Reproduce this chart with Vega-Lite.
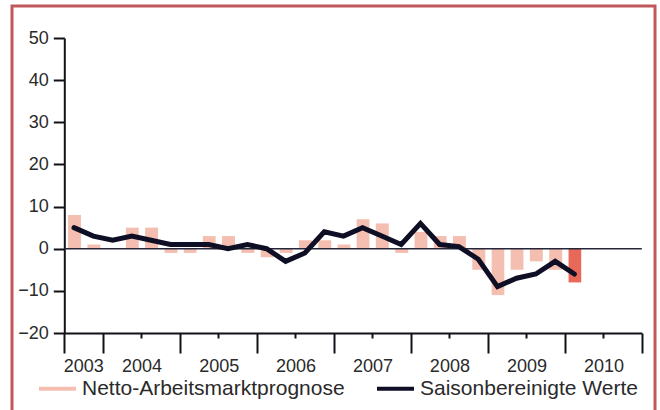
{
  "$schema": "https://vega.github.io/schema/vega-lite/v6.json",
  "width": 643,
  "height": 420,
  "autosize": {"type": "none"},
  "padding": {"left": 12, "top": 6, "right": 5, "bottom": 0},
  "background": "white",
  "config": {
    "view": {"stroke": "#c0585b", "strokeWidth": 3},
    "font": "Liberation Sans"
  },
  "data": {
    "values": [
      {"quartal": "2003-07-01", "prognose": 8, "saison": 5, "status": "historisch"},
      {"quartal": "2003-10-01", "prognose": 1, "saison": 3, "status": "historisch"},
      {"quartal": "2004-01-01", "prognose": 0, "saison": 2, "status": "historisch"},
      {"quartal": "2004-04-01", "prognose": 5, "saison": 3, "status": "historisch"},
      {"quartal": "2004-07-01", "prognose": 5, "saison": 2, "status": "historisch"},
      {"quartal": "2004-10-01", "prognose": -1, "saison": 1, "status": "historisch"},
      {"quartal": "2005-01-01", "prognose": -1, "saison": 1, "status": "historisch"},
      {"quartal": "2005-04-01", "prognose": 3, "saison": 1, "status": "historisch"},
      {"quartal": "2005-07-01", "prognose": 3, "saison": 0, "status": "historisch"},
      {"quartal": "2005-10-01", "prognose": -1, "saison": 1, "status": "historisch"},
      {"quartal": "2006-01-01", "prognose": -2, "saison": 0, "status": "historisch"},
      {"quartal": "2006-04-01", "prognose": -1, "saison": -3, "status": "historisch"},
      {"quartal": "2006-07-01", "prognose": 2, "saison": -1, "status": "historisch"},
      {"quartal": "2006-10-01", "prognose": 2, "saison": 4, "status": "historisch"},
      {"quartal": "2007-01-01", "prognose": 1, "saison": 3, "status": "historisch"},
      {"quartal": "2007-04-01", "prognose": 7, "saison": 5, "status": "historisch"},
      {"quartal": "2007-07-01", "prognose": 6, "saison": 3, "status": "historisch"},
      {"quartal": "2007-10-01", "prognose": -1, "saison": 1, "status": "historisch"},
      {"quartal": "2008-01-01", "prognose": 4, "saison": 6, "status": "historisch"},
      {"quartal": "2008-04-01", "prognose": 3, "saison": 1, "status": "historisch"},
      {"quartal": "2008-07-01", "prognose": 3, "saison": 0.5, "status": "historisch"},
      {"quartal": "2008-10-01", "prognose": -5, "saison": -2.5, "status": "historisch"},
      {"quartal": "2009-01-01", "prognose": -11, "saison": -9, "status": "historisch"},
      {"quartal": "2009-04-01", "prognose": -5, "saison": -7, "status": "historisch"},
      {"quartal": "2009-07-01", "prognose": -3, "saison": -6, "status": "historisch"},
      {"quartal": "2009-10-01", "prognose": -5, "saison": -3, "status": "historisch"},
      {"quartal": "2010-01-01", "prognose": -8, "saison": -6, "status": "aktuell"}
    ]
  },
  "layer": [
    {
      "transform": [{"filter": "datum.status === 'historisch'"}],
      "mark": {"type": "bar", "width": {"band": 0.72}},
      "encoding": {
        "x": {
          "field": "quartal",
          "type": "temporal",
          "timeUnit": "utcyearquarter",
          "scale": {
            "type": "utc",
            "nice": false,
            "domain": [{"year": 2003, "month": 7, "date": 1, "utc": true}, {"year": 2011, "month": 1, "date": 1, "utc": true}],
            "range": [52.3, 629.8]
          },
          "axis": {
            "orient": "bottom",
            "offset": -93,
            "title": null,
            "grid": false,
            "values": [
              {"year": 2003, "month": 7, "date": 1, "utc": true}, {"year": 2003, "month": 10, "date": 1, "utc": true},
              {"year": 2004, "month": 1, "date": 1, "utc": true}, {"year": 2004, "month": 4, "date": 1, "utc": true}, {"year": 2004, "month": 7, "date": 1, "utc": true}, {"year": 2004, "month": 10, "date": 1, "utc": true},
              {"year": 2005, "month": 1, "date": 1, "utc": true}, {"year": 2005, "month": 4, "date": 1, "utc": true}, {"year": 2005, "month": 7, "date": 1, "utc": true}, {"year": 2005, "month": 10, "date": 1, "utc": true},
              {"year": 2006, "month": 1, "date": 1, "utc": true}, {"year": 2006, "month": 4, "date": 1, "utc": true}, {"year": 2006, "month": 7, "date": 1, "utc": true}, {"year": 2006, "month": 10, "date": 1, "utc": true},
              {"year": 2007, "month": 1, "date": 1, "utc": true}, {"year": 2007, "month": 4, "date": 1, "utc": true}, {"year": 2007, "month": 7, "date": 1, "utc": true}, {"year": 2007, "month": 10, "date": 1, "utc": true},
              {"year": 2008, "month": 1, "date": 1, "utc": true}, {"year": 2008, "month": 4, "date": 1, "utc": true}, {"year": 2008, "month": 7, "date": 1, "utc": true}, {"year": 2008, "month": 10, "date": 1, "utc": true},
              {"year": 2009, "month": 1, "date": 1, "utc": true}, {"year": 2009, "month": 4, "date": 1, "utc": true}, {"year": 2009, "month": 7, "date": 1, "utc": true}, {"year": 2009, "month": 10, "date": 1, "utc": true},
              {"year": 2010, "month": 1, "date": 1, "utc": true}, {"year": 2010, "month": 4, "date": 1, "utc": true}, {"year": 2010, "month": 7, "date": 1, "utc": true}, {"year": 2010, "month": 10, "date": 1, "utc": true},
              {"year": 2011, "month": 1, "date": 1, "utc": true}
            ],
            "domainColor": "#111118",
            "domainWidth": 2,
            "tickColor": "#111118",
            "tickWidth": 2,
            "tickSize": {"condition": {"test": "utcmonth(datum.value) === 0 || (utcyear(datum.value) === 2003 && utcmonth(datum.value) === 6)", "value": 20}, "value": 5},
            "labelExpr": "(utcmonth(datum.value) === 0 && utcyear(datum.value) < 2011) || (utcyear(datum.value) === 2003 && utcmonth(datum.value) === 6) ? '' + utcyear(datum.value) : ''",
            "labelOffset": {"condition": {"test": "utcyear(datum.value) === 2003", "value": 19}, "value": 38.5},
            "labelPadding": 4,
            "labelFontSize": 18,
            "labelColor": "#2a2a2a",
            "labelFlush": false,
            "labelBound": false,
            "labelOverlap": false
          }
        },
        "y": {
          "field": "prognose",
          "type": "quantitative",
          "scale": {"domain": [-20, 50], "range": [327, 32], "nice": false, "zero": false},
          "axis": {
            "offset": -52.3,
            "title": null,
            "grid": false,
            "values": [-20, -10, 0, 10, 20, 30, 40, 50],
            "tickSize": 11,
            "tickColor": "#111118",
            "tickWidth": 2,
            "domainColor": "#111118",
            "domainWidth": 2,
            "labelFontSize": 18,
            "labelColor": "#2a2a2a",
            "labelPadding": 5
          }
        },
        "color": {
          "datum": "Netto-Arbeitsmarktprognose",
          "type": "nominal",
          "scale": {
            "domain": ["Netto-Arbeitsmarktprognose", "Saisonbereinigte Werte"],
            "range": ["#f4bfb0", "#0e0e24"]
          },
          "legend": {
            "orient": "none",
            "legendX": 25,
            "legendY": 362,
            "direction": "horizontal",
            "title": null,
            "symbolType": "stroke",
            "symbolSize": 1369,
            "symbolStrokeWidth": 4,
            "labelFontSize": 21,
            "labelFont": "Liberation Sans",
            "labelColor": "#2a2a2a",
            "labelOffset": 4,
            "labelLimit": 400,
            "columnPadding": 24,
            "padding": 0,
            "encode": {
              "symbols": {
                "update": {
                  "stroke": {"signal": "datum.value === 'Netto-Arbeitsmarktprognose' ? '#e2b4b3' : '#1b2330'"},
                  "fill": {"value": "transparent"},
                  "strokeWidth": {"value": 4}
                }
              }
            }
          }
        }
      }
    },
    {
      "transform": [{"filter": "datum.status === 'aktuell'"}],
      "mark": {"type": "bar", "width": {"band": 0.72}, "color": "#e8695a"},
      "encoding": {
        "x": {"field": "quartal", "type": "temporal", "timeUnit": "utcyearquarter"},
        "y": {"field": "prognose", "type": "quantitative"}
      }
    },
    {
      "data": {"values": [{"nulllinie": 0}]},
      "mark": {"type": "rule", "color": "#26263a", "strokeWidth": 1.6},
      "encoding": {
        "y": {"field": "nulllinie", "type": "quantitative"},
        "x": {"datum": {"year": 2003, "month": 7, "date": 1, "utc": true}, "type": "temporal"},
        "x2": {"datum": {"year": 2011, "month": 1, "date": 1, "utc": true}}
      }
    },
    {
      "mark": {"type": "line", "strokeWidth": 5, "strokeCap": "round", "strokeJoin": "miter"},
      "encoding": {
        "x": {"field": "quartal", "type": "temporal", "timeUnit": "utcyearquarter", "bandPosition": 0.5},
        "y": {"field": "saison", "type": "quantitative"},
        "color": {"datum": "Saisonbereinigte Werte", "type": "nominal"}
      }
    }
  ]
}
